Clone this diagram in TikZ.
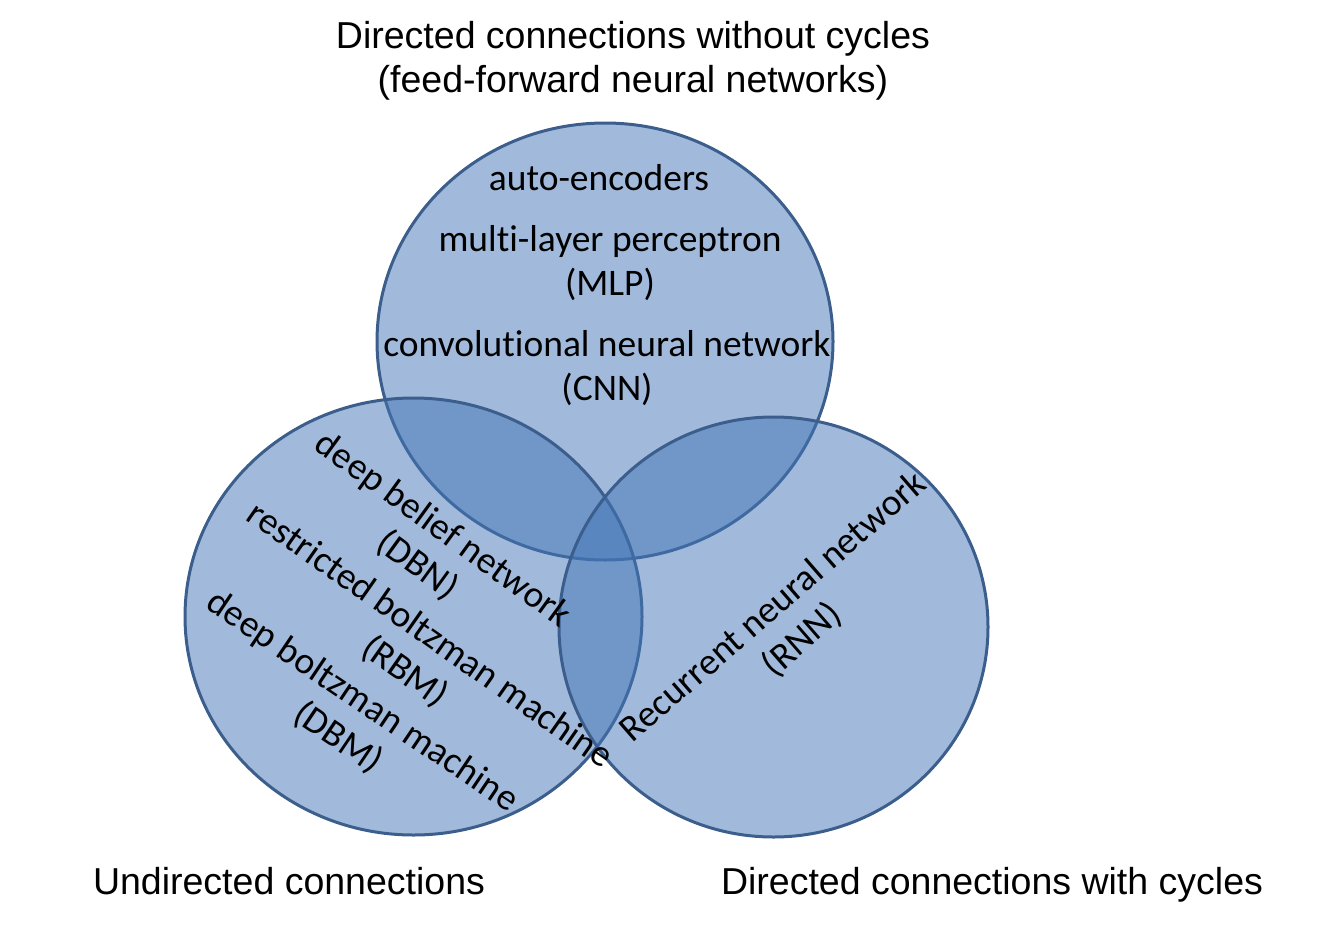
\documentclass[tikz,border=0pt]{standalone}
\usepackage{fontspec}
\setmainfont{Liberation Sans}
\newfontfamily\calfont[RawFeature={-liga;-clig;-dlig}]{Carlito}
\definecolor{vfill}{RGB}{67,117,183}
\definecolor{vline}{RGB}{59,94,140}
\begin{document}
\begin{tikzpicture}[x=0.5pt,y=-0.5pt,
  setc/.style={fill=vfill, fill opacity=0.5, draw=vline, line width=1.5pt},
  outl/.style={font=\fontsize{18.75}{22}\selectfont, align=center, inner sep=0pt},
  inl/.style={font=\calfont\fontsize{18.75}{22}\selectfont, align=center, inner sep=0pt}]
\useasboundingbox (0,0) rectangle (1331,926);
\draw[setc] (605,341.5) ellipse [x radius=228, y radius=218.5];
\draw[setc] (413.5,616.5) ellipse [x radius=228.5, y radius=218.5];
\draw[setc] (773.5,627) ellipse [x radius=214.5, y radius=210];

\node[outl] (ttop) at (633,61) {Directed connections without cycles\\(feed-forward neural networks)};
\node[outl, anchor=base] (tleft) at (289,894.5) {Undirected connections};
\node[outl, anchor=base] (tright) at (992,894.5) {Directed connections with cycles};

\node[inl] (ae) at (599,178) {auto-encoders};
\node[inl] (mlp) at (610,263) {multi-layer perceptron\\(MLP)};
\node[inl] (cnn) at (607,368) {convolutional neural network\\(CNN)};

\node[inl, rotate=-36] (dbn) at (430,548) {deep belief network\\(DBN)};
\node[inl, rotate=-35] (rbm) at (417,654) {restricted boltzman machine\\(RBM)};
\node[inl, rotate=-34] (dbm) at (350,720) {deep boltzman machine\\(DBM)};
\node[inl, rotate=41] (rnn) at (788,624) {Recurrent neural network\\(RNN)};
\end{tikzpicture}
\end{document}
